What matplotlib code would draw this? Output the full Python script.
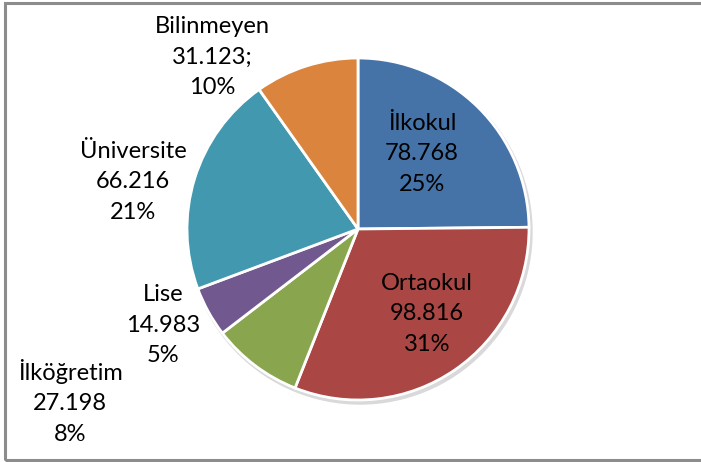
import matplotlib.pyplot as plt
from matplotlib.patches import Rectangle

categories = ['İlkokul', 'Ortaokul', 'İlköğretim', 'Lise', 'Üniversite', 'Bilinmeyen']
counts = [78768, 98816, 27198, 14983, 66216, 31123]
count_labels = ['78.768', '98.816', '27.198', '14.983', '66.216', '31.123;']
pct_labels = ['25%', '31%', '8%', '5%', '21%', '10%']
colors = ['#4572A7', '#AA4643', '#89A54E', '#71588F', '#4198AF', '#DB843D']

# label centres in pixel coords (x, y of middle line, from top)
label_pos = [(422, 154), (427, 314), (70, 402), (163, 325), (133, 182), (212, 57)]

W, H = 701, 462
fig = plt.figure(figsize=(W / 100, H / 100), dpi=100)
ax = fig.add_axes([0, 0, 1, 1])
ax.set_xlim(0, W)
ax.set_ylim(0, H)
ax.set_aspect('equal')
ax.axis('off')

# outer frame
ax.add_patch(Rectangle((5, 2), W + 10, H - 5, fill=False, edgecolor='#8c8c8c', linewidth=2.2))

# faint shadow
shadow = plt.Circle((360, H - 232), 172, color='#d9d9d9', zorder=1)
ax.add_patch(shadow)

ax.pie(counts, colors=colors, startangle=90, counterclock=False,
       center=(358, H - 229), radius=171, frame=True,
       wedgeprops=dict(edgecolor='white', linewidth=2, zorder=2))
ax.set_xlim(0, W)
ax.set_ylim(0, H)
ax.axis('off')

for name, cl, pl, (x, y) in zip(categories, count_labels, pct_labels, label_pos):
    ax.text(x, H - y, f'{name}\n{cl}\n{pl}', ha='center', va='center',
            fontsize=17, family='Lato', linespacing=1.58, color='black', zorder=5)

fig.savefig('out.png', dpi=100)
